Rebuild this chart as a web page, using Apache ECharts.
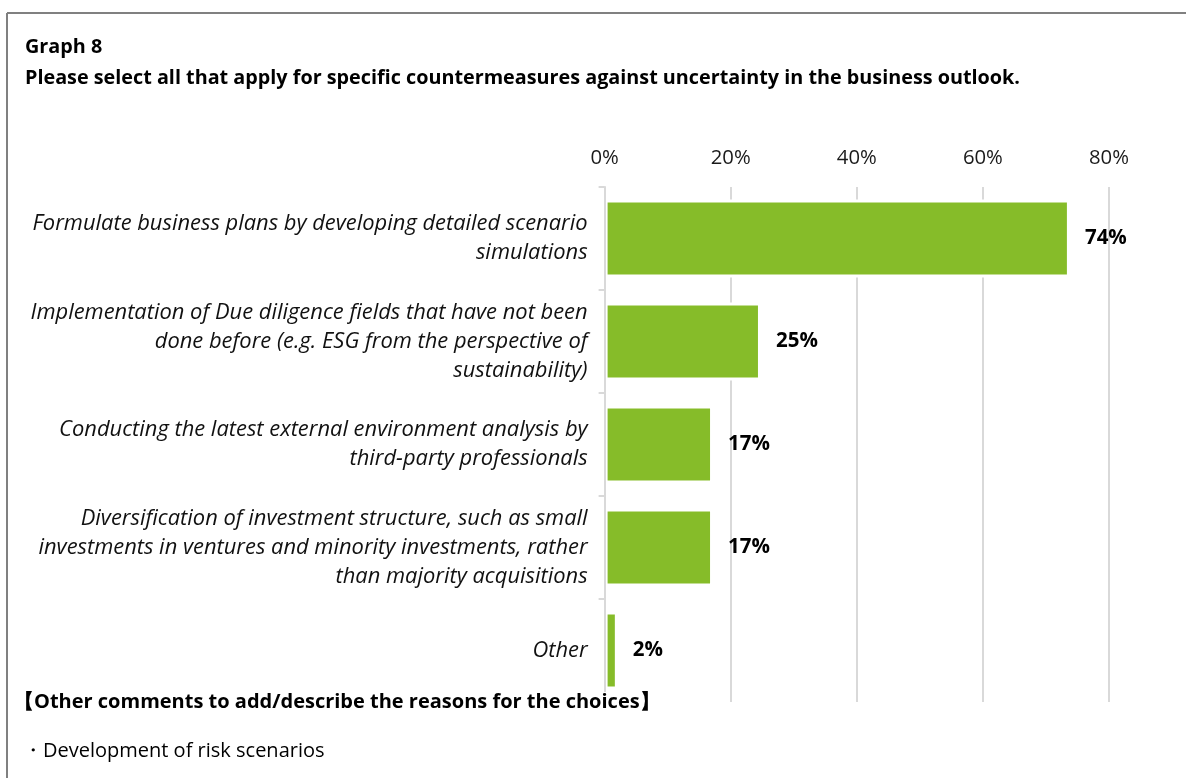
<!DOCTYPE html>
<html>
<head>
<meta charset="utf-8">
<script src="https://cdn.jsdelivr.net/npm/echarts@6/dist/echarts.min.js"></script>
<style>
html,body{margin:0;padding:0;background:#fff;}
#chart{width:1186px;height:778px;}
</style>
</head>
<body>
<div id="chart"></div>
<script>
var categories = [
  "Formulate business plans by developing detailed scenario\nsimulations",
  "Implementation of Due diligence fields that have not been\ndone before (e.g. ESG from the perspective of\nsustainability)",
  "Conducting the latest external environment analysis by\nthird-party professionals",
  "Diversification of investment structure, such as small\ninvestments in ventures and minority investments, rather\nthan majority acquisitions",
  "Other"
];
var values = [73.8, 24.8, 17.2, 17.2, 2.1];
var xTicks = { min: 0, max: 80, interval: 20 };
var titleLine1 = "Graph 8";
var titleLine2 = "Please select all that apply for specific countermeasures against uncertainty in the business outlook.";
var commentHeader = "【Other comments to add/describe the reasons for the choices】";
var comments = ["・Development of risk scenarios"];

var FONT = "Open Sans";
var mctx = document.createElement('canvas').getContext('2d');
function fit(text, weight, style, target) {
  mctx.font = style + ' ' + weight + ' 100px "' + FONT + '"';
  return Math.round(1000 * target / mctx.measureText(text).width) / 10;
}
var catSize = fit("Formulate business plans by developing detailed scenario", 'normal', 'italic', 555);
var titleSize = fit(titleLine2, 'bold', 'normal', 997);
var headSize = fit("Other comments to add/describe the reasons for the choices", 'bold', 'normal', 607);
var commentSize = fit("Development of risk scenarios", 'normal', 'normal', 282);
var tickSize = fit("80%", 'normal', 'normal', 40);
var valSize = fit("74%", 'bold', 'normal', 42);

var chart = echarts.init(document.getElementById('chart'), null, {renderer: 'canvas'});
function txt(x, y, text, size, weight, bg) {
  var s = {text: text, font: weight + ' ' + size + 'px "' + FONT + '"', fill: '#000', verticalAlign: 'middle', align: 'left'};
  if (bg) { s.backgroundColor = '#fff'; s.padding = [0, 2, 0, 2]; }
  return {type: 'text', x: x, y: y, z: 20, style: s};
}
var graphics = [
  {type: 'line', shape: {x1: 7, y1: 13, x2: 1186, y2: 13}, style: {stroke: '#808080', lineWidth: 2}, z: 10},
  {type: 'line', shape: {x1: 7, y1: 13, x2: 7, y2: 778}, style: {stroke: '#808080', lineWidth: 2}, z: 10},
  txt(25, 47, titleLine1, titleSize, 'bold'),
  txt(25, 78, titleLine2, titleSize, 'bold'),
  txt(12, 702, commentHeader, headSize, 'bold', true)
];
comments.forEach(function (c, i) {
  graphics.push(txt(23, 751 + i * 30, c, commentSize, 'normal'));
});

chart.setOption({
  animation: false,
  backgroundColor: '#fff',
  grid: {left: 604.6, right: 77, top: 187, bottom: 76, containLabel: false},
  xAxis: {
    type: 'value', position: 'top',
    min: xTicks.min, max: xTicks.max, interval: xTicks.interval,
    axisLine: {show: false}, axisTick: {show: false},
    axisLabel: {formatter: '{value}%', fontFamily: FONT, fontSize: tickSize, color: '#1a1a1a', margin: 19},
    splitLine: {show: true, lineStyle: {color: '#d9d9d9', width: 2}}
  },
  yAxis: {
    type: 'category', inverse: true, data: categories, z: 5,
    axisLine: {show: true, lineStyle: {color: '#d9d9d9', width: 2}},
    axisTick: {show: true, length: 6, lineStyle: {color: '#d9d9d9', width: 2}},
    axisLabel: {fontFamily: FONT, fontStyle: 'italic', fontSize: catSize, lineHeight: 29, color: '#111', margin: 17, align: 'right'}
  },
  series: [{
    type: 'bar', data: values, barWidth: 78,
    itemStyle: {color: '#86bc29', borderColor: '#ffffff', borderWidth: 3},
    label: {show: true, position: 'right', distance: 15,
      formatter: function (p) { return Math.round(p.value) + '%'; },
      fontFamily: FONT, fontWeight: 'bold', fontSize: valSize, color: '#000'}
  }],
  graphic: graphics
});
</script>
</body>
</html>
